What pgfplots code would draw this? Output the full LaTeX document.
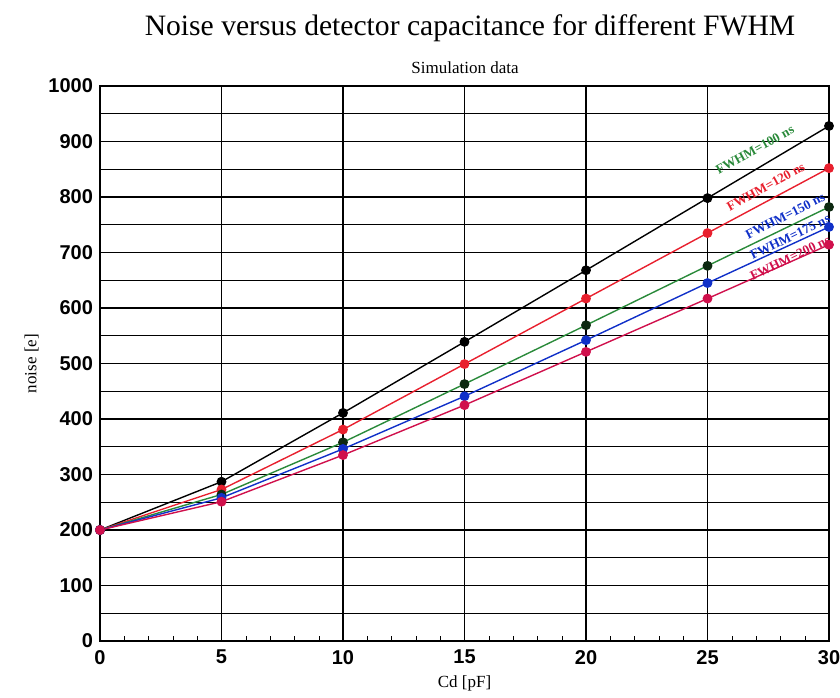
\documentclass[border=0pt]{standalone}
\usepackage{fontspec}
\setmainfont{Liberation Serif}
\setsansfont{Liberation Sans}
\usepackage{pgfplots}
\pgfplotsset{compat=1.18}

\definecolor{cgreen}{HTML}{2A8A3A}
\definecolor{cred}{HTML}{E8202E}
\definecolor{cblue}{HTML}{1030C8}
\definecolor{cmag}{HTML}{D0104C}

\begin{document}
\begin{tikzpicture}[x=0.5pt,y=0.5pt]
\begin{axis}[
  at={(0,0)}, anchor=origin,
  scale only axis,
  width=364.5pt, height=277.5pt,
  xmin=0, xmax=30, ymin=0, ymax=1000,
  xtick={0,5,...,30}, ytick={0,100,...,1000},
  minor x tick num=4,
  minor ytick={50,150,...,950},
  xmajorgrids, ymajorgrids, yminorgrids,
  grid style={black, line width=0.55pt},
  minor grid style={black, line width=0.55pt},
  axis line style={black, line width=0.8pt},
  tick style={black},
  minor y tick style={draw=none},
  minor tick length=2.5pt,
  major tick length=0pt,
  tick align=inside,
  xtick pos=bottom, ytick pos=left,
  /pgf/number format/assume math mode=true,
  /pgf/number format/1000 sep={},
  tick label style={font=\fontsize{10}{12}\selectfont\sffamily\bfseries},
  xticklabel style={yshift=-1pt},
  xlabel={Cd [pF]},
  ylabel={noise [e]},
  xlabel style={font=\fontsize{8.5}{10}\selectfont, yshift=1pt},
  ylabel style={font=\fontsize{8.5}{10}\selectfont, yshift=-2pt},
  every axis plot/.append style={line width=0.7pt, mark=*, mark size=2.1pt},
  clip=false,
]
\addplot[black, mark options={fill=black}] coordinates {
(0,200) (5,287) (10,411) (15,539) (20,668) (25,798) (30,928)};
\addplot[cred, mark options={fill=cred}] coordinates {
(0,200) (5,273) (10,381) (15,499) (20,617) (25,735) (30,852)};
\addplot[cgreen, mark options={fill=black!70!cgreen, draw=black!70!cgreen}] coordinates {
(0,200) (5,264) (10,358) (15,463) (20,569) (25,676) (30,782)};
\addplot[cblue, mark options={fill=cblue}] coordinates {
(0,200) (5,258) (10,346) (15,441) (20,542) (25,645) (30,746)};
\addplot[cmag, mark options={fill=cmag}] coordinates {
(0,200) (5,251) (10,335) (15,425) (20,521) (25,617) (30,714)};

\begin{scope}[font=\fontsize{6.6}{8}\selectfont\bfseries, inner sep=0pt]
\node[cgreen, rotate=29] at (axis cs:26.95,885) {FWHM=100 ns};
\node[cred, rotate=29] at (axis cs:27.4,818) {FWHM=120 ns};
\node[cblue, rotate=27] at (axis cs:28.2,766) {FWHM=150 ns};
\node[cblue, rotate=26] at (axis cs:28.4,728) {FWHM=175 ns};
\node[cmag, rotate=26] at (axis cs:28.4,690) {FWHM=200 ns};
\end{scope}
\end{axis}
\node[font=\fontsize{14.8}{18}\selectfont] at (370,613) {Noise versus detector capacitance for different FWHM};
\node[font=\fontsize{8.5}{10}\selectfont] at (365,573) {Simulation data};
\pgfresetboundingbox
\path (-100,-56) rectangle (740,641);
\end{tikzpicture}
\end{document}
